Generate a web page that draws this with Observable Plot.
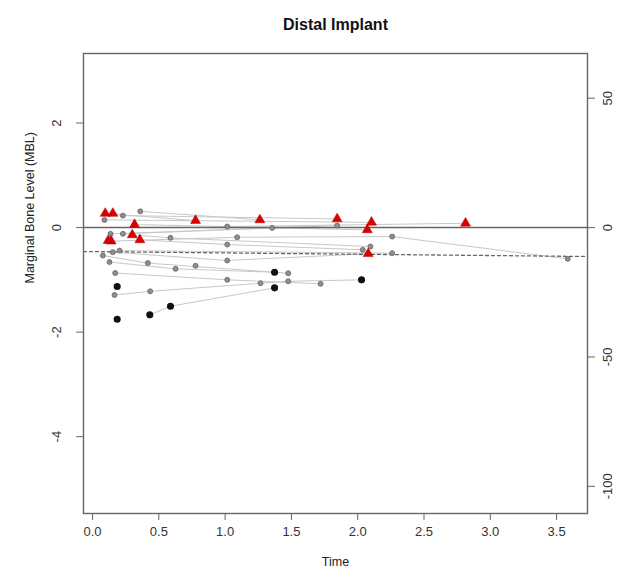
<!DOCTYPE html>
<html><head><meta charset="utf-8">
<script src="https://cdn.jsdelivr.net/npm/d3@7"></script>
<script src="https://cdn.jsdelivr.net/npm/@observablehq/plot@0.6"></script>
<style>body{margin:0;background:#fff} svg{display:block}</style>
</head><body><div id="chart"></div>
<script>
// per-measurement arrays (subject id, time, MBL, marker kind)
const subject = [1,1, 2,2,2, 3,3, 4,4, 5,5,5, 6,6,6, 7,7, 8,8,8,8, 9,9,9, 10,10,10, 11,11,11, 12,12, 13,13,13, 14,14,14, 15,15,15, 16,16,16,16,16, 17, 18, 19,19,19, 20, 21];
const time = [0.096,0.777, 0.153,0.229,1.845, 0.36,1.262, 0.09,2.104, 0.317,1.016,2.813, 0.136,1.355,2.072, 0.229,1.845, 0.141,1.091,2.26,3.584, 0.30,0.588,2.096, 0.357,1.016,2.038, 0.153,1.016,2.079, 0.204,2.26, 0.128,0.626,1.373, 0.078,0.417,1.476, 0.171,1.016,1.72, 0.166,0.435,1.267,1.476,2.029, 0.186, 0.186, 0.432,0.588,1.373, 0.777, 0.118];
const mbl = [0.27,0.134, 0.27,0.229,0.166, 0.31,0.147, 0.147,0.10, 0.057,0.02,0.082, -0.12,-0.006,-0.044, -0.12,0.038, -0.26,-0.185,-0.172,-0.598, -0.14,-0.197,-0.363, -0.235,-0.325,-0.426, -0.47,-0.63,-0.50, -0.44,-0.49, -0.66,-0.79,-0.855, -0.535,-0.68,-0.874, -0.87,-1.0,-1.076, -1.29,-1.22,-1.065,-1.027,-1.0, -1.128, -1.753, -1.67,-1.505,-1.153, -0.73, -0.25];
const kind = ["red","red", "red","grey","red", "grey","red", "grey","red", "red","grey","red", "grey","grey","red", "grey","grey", "red","grey","grey","grey", "red","grey","grey", "red","grey","grey", "grey","grey","red", "grey","grey", "grey","grey","black", "grey","grey","grey", "grey","grey","grey", "grey","grey","grey","grey","black", "black", "black", "black","black","black", "grey", "red"];

const xTicks = [0, 0.5, 1.0, 1.5, 2.0, 2.5, 3.0, 3.5];
const yTicks = [-4, -2, 0, 2];
const rightTicks = [50, 0, -50, -100];
const rightRatio = 20.2;            // right-axis units per MBL unit
const fitIntercept = -0.46, fitSlope = -0.025;   // dashed fitted line
const xDomain = [-0.068, 3.733], yDomain = [-5.47, 3.33];

const data = time.map((t, i) => ({subject: subject[i], time: t, mbl: mbl[i], kind: kind[i]}));
const fit = xDomain.map(x => ({time: x, mbl: fitIntercept + fitSlope * x}));

const font = "Liberation Sans, Arial, Helvetica, sans-serif";
const chart = Plot.plot({
  width: 623, height: 573,
  marginLeft: 83, marginRight: 36, marginTop: 53, marginBottom: 60,
  style: {fontFamily: font, fontSize: "13px", color: "#333", background: "#fff"},
  x: {domain: xDomain},
  y: {domain: yDomain},
  marks: [
    Plot.line(data, {x: "time", y: "mbl", z: "subject", stroke: "#c8c8c8", strokeWidth: 1}),
    Plot.ruleY([0], {stroke: "#666", strokeWidth: 1.6}),
    Plot.line(fit, {x: "time", y: "mbl", stroke: "#666", strokeWidth: 1.3, strokeDasharray: "3,3"}),
    Plot.dot(data.filter(d => d.kind === "grey"), {x: "time", y: "mbl", r: 2.5, fill: "#8e8e8e", stroke: "#666", strokeWidth: 0.8}),
    Plot.dot(data.filter(d => d.kind === "black"), {x: "time", y: "mbl", r: 2.8, fill: "#111", stroke: "#111"}),
    Plot.dot(data.filter(d => d.kind === "red"), {x: "time", y: "mbl", symbol: "triangle", r: 3.7, fill: "#d90000", stroke: "#b00000", strokeWidth: 0.5}),
    Plot.frame({stroke: "#666", strokeWidth: 1.4}),
    Plot.axisX({ticks: xTicks, tickFormat: d => d.toFixed(1), tickSize: 7, tickPadding: 6, stroke: "#666", label: null}),
    Plot.axisY({ticks: yTicks, tickFormat: d => String(d), tickSize: 7, tickPadding: 16, tickRotate: -90, stroke: "#666", label: null}),
    Plot.axisY({anchor: "right", ticks: rightTicks.map(v => v / rightRatio), tickFormat: d => String(Math.round(d * rightRatio)), tickSize: 7, tickPadding: 8, tickRotate: -90, lineAnchor: "top", stroke: "#666", label: null}),
    Plot.text(["Distal Implant"], {frameAnchor: "top", dy: -35, fontWeight: "bold", fontSize: 16, fill: "#111"}),
    Plot.text(["Time"], {frameAnchor: "bottom", dy: 52, fontSize: 12.5, fill: "#222"}),
    Plot.text(["Marginal Bone Level (MBL)"], {frameAnchor: "left", dx: -54, rotate: -90, fontSize: 12.5, fill: "#222"})
  ]
});
document.getElementById("chart").appendChild(chart);
</script></body></html>
